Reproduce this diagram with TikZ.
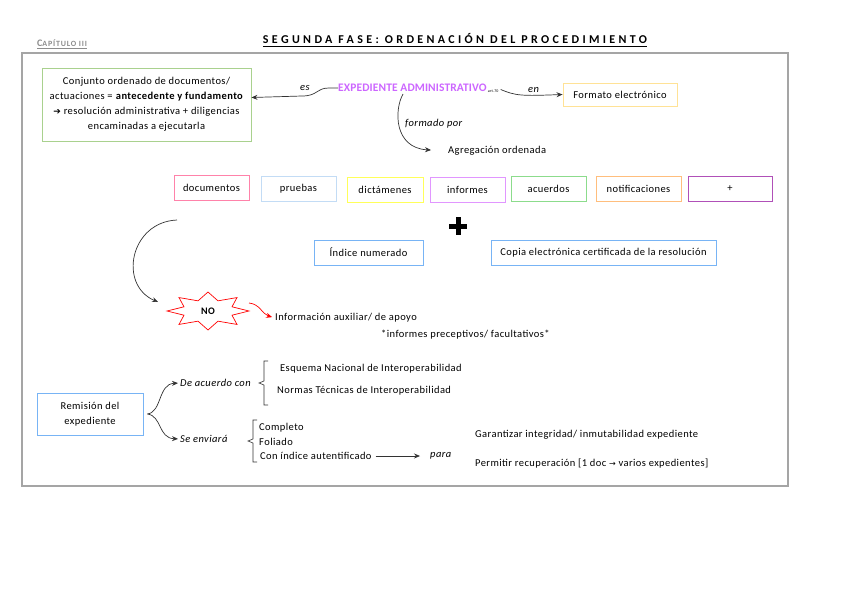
\documentclass[tikz,border=0pt]{standalone}
\usepackage{fontspec}
\setmainfont{Carlito}[LetterSpace=4]
\newfontfamily\symfont{DejaVu Sans}
\usetikzlibrary{arrows.meta,calc}
\definecolor{expcol}{RGB}{204,102,255}
\definecolor{cgreen}{RGB}{169,209,142}
\definecolor{cformato}{RGB}{255,226,150}
\definecolor{cpink}{RGB}{255,130,170}
\definecolor{cpru}{RGB}{195,220,245}
\definecolor{cyel}{RGB}{255,255,90}
\definecolor{cinf}{RGB}{225,150,255}
\definecolor{cacu}{RGB}{140,220,140}
\definecolor{cnot}{RGB}{255,190,125}
\definecolor{cplus}{RGB}{176,80,184}
\definecolor{cblue}{RGB}{120,180,245}
\definecolor{cframe}{RGB}{165,165,165}
\tikzset{
  box/.style={draw, line width=0.9pt, minimum height=25pt, inner sep=2pt, align=center},
  lbl/.style={anchor=west, inner sep=0pt},
  itl/.style={lbl, font=\fontsize{10.5}{12}\selectfont\itshape},
  arr/.style={-{Stealth[length=6pt,width=5pt]}, line width=0.7pt, black!80},
  brk/.style={line width=0.6pt, black!80},
}
\begin{document}
\begin{tikzpicture}[x=1pt,y=-1pt,font=\fontsize{10.5}{12}\selectfont]
\useasboundingbox (0,0) rectangle (848,599);
% header
\node[inner sep=0pt, font=\fontsize{12}{14}\selectfont\bfseries\addfontfeatures{LetterSpace=28}] (title) at (455,39) {SEGUNDA FASE: ORDENACIÓN DEL PROCEDIMIENTO};
\draw[line width=0.9pt] ([yshift=-2pt]title.base west) -- ([yshift=-2pt]title.base east);
\node[lbl, text=black!45, font=\bfseries\addfontfeatures{LetterSpace=10}] (cap) at (37,43) {\fontsize{10}{11}\selectfont C\fontsize{8}{9}\selectfont APÍTULO III};
\draw[black!45, line width=0.7pt] ([yshift=-2pt]cap.base west) -- ([yshift=-2pt]cap.base east);
% frame
\draw[cframe, line width=1.6pt] (22,53) rectangle (788,486);
% top
\node[box, draw=cgreen, minimum width=209pt, minimum height=73pt, font=\fontsize{10.5}{15}\selectfont] (green) at (146.5,104.5)
  {Conjunto ordenado de documentos/\\ actuaciones = \textbf{antecedente y fundamento}\\ {\symfont\fontsize{9}{9}\selectfont ➔} resolución administrativa + diligencias\\ encaminadas a ejecutarla};
\node[lbl, text=expcol, font=\fontsize{11.5}{13}\selectfont\bfseries\addfontfeatures{LetterSpace=1}] (exp) at (338,88) {EXPEDIENTE ADMINISTRATIVO};
\node[lbl, font=\fontsize{4}{5}\selectfont] (art) at ([xshift=1pt]exp.east |- 0,91) {art.70};
\node[box, draw=cformato, minimum width=114pt, minimum height=23pt] (formato) at (620,94.5) {Formato electrónico};
\node[itl] (es) at (300,88) {es};
\node[itl] (en) at (528,90) {en};
\node[itl] (formado) at (405,124) {formado por};
\node[lbl] (agreg) at (448,151) {Agregación ordenada};
\draw[arr] (exp.west) -- (329,88) .. controls (316,88) and (318,96) .. (302,96) -- ([yshift=7pt]green.east);
\draw[arr] ([xshift=2pt]art.north east) .. controls (516,96) and (522,96) .. (formato.west);
\draw[arr, shorten >=17pt] ([xshift=65pt,yshift=-2pt]exp.south west) .. controls (394,110) and (394,148) .. (agreg.west);
% row of boxes
\node[box, draw=cpink, minimum width=75pt] (b1) at (211.5,187.5) {documentos};
\node[box, draw=cpru, minimum width=75pt] (b2) at (298.5,188.5) {pruebas};
\node[box, draw=cyel, minimum width=76pt] (b3) at (385,189.5) {dictámenes};
\node[box, draw=cinf, minimum width=75pt] (b4) at (467.5,189.5) {informes};
\node[box, draw=cacu, minimum width=75pt] (b5) at (548.5,188.5) {acuerdos};
\node[box, draw=cnot, minimum width=85pt] (b6) at (638.5,188.5) {notificaciones};
\node[box, draw=cplus, minimum width=84pt] (b7) at (730,188.5) {+};
% big plus
\coordinate (bigplus) at (458,226);
\draw[line width=5pt] ([xshift=-9pt]bigplus) -- ([xshift=9pt]bigplus) ([yshift=9pt]bigplus) -- ([yshift=-9pt]bigplus);
\node[box, draw=cblue, minimum width=109pt] (indice) at (368.5,252.5) {Índice numerado};
\node[box, draw=cblue, minimum width=225pt] (copia) at (603.5,252.5) {Copia electrónica certificada de la resolución};
% NO star
\coordinate (noc) at (208,311);
\path \foreach \k [evaluate=\k as \rx using {mod(\k,2)==0 ? 41 : 26}, evaluate=\k as \ry using {mod(\k,2)==0 ? 19 : 11}] in {0,...,15} { coordinate (s\k) at ($(noc)+(\k*22.5:\rx pt and \ry pt)$) };
\draw[red, line width=0.7pt] (s0) \foreach \k in {1,...,15} { -- (s\k) } -- cycle;
\node[font=\fontsize{10}{11}\selectfont\bfseries] (no) at (noc) {NO};
\coordinate (c1) at (177,220);
\draw[arr] (c1) .. controls (130,222) and (118,285) .. ($(noc)+(-50,-9)$);
\node[lbl] (info) at (275,318) {Información auxiliar/ de apoyo};
\node[lbl] (infprec) at (381,335) {*informes preceptivos/ facultativos*};
\draw[-{Stealth[length=6pt,width=5pt]}, red, line width=0.7pt, shorten >=3pt] ($(noc)+(41,-8)$) .. controls (260,304) and (262,314) .. (info.west);
% remision
\node[box, draw=cblue, minimum width=106pt, minimum height=42pt, font=\fontsize{10.5}{15}\selectfont] (rem) at (90,414) {Remisión del\\ expediente};
\node[itl] (deac) at (180,383) {De acuerdo con};
\node[itl] (send) at (180,439) {Se enviará};
\draw[arr, shorten >=2pt] ([xshift=4pt]rem.east) .. controls (162,412) and (158,384) .. (deac.west);
\draw[arr, shorten >=2pt] ([xshift=4pt]rem.east) .. controls (162,416) and (158,438) .. (send.west);
\draw[brk] (268,361) -- (264,361) -- (264,381) -- (259,383) -- (264,385) -- (264,405) -- (268,405);
\node[lbl] (enis) at (280,369) {Esquema Nacional de Interoperabilidad};
\node[lbl] (ntis) at (277,391) {Normas Técnicas de Interoperabilidad};
\draw[brk] (257,420) -- (253,420) -- (253,439) -- (248,441) -- (253,443) -- (253,462) -- (257,462);
\node[lbl] (comp) at (259,428) {Completo};
\node[lbl] (fol) at (259,442) {Foliado};
\node[lbl] (conind) at (260,456) {Con índice autentificado};
\node[itl] (para) at (430,456) {para};
\draw[arr, shorten <=4pt, shorten >=10pt] (conind.east) -- (para.west);
\node[lbl] (gar) at (475,435) {Garantizar integridad/ inmutabilidad expediente};
\node[lbl] (perm) at (475,464) {Permitir recuperación [1 doc {\symfont\fontsize{8}{9}\selectfont →} varios expedientes]};
\end{tikzpicture}
\end{document}
